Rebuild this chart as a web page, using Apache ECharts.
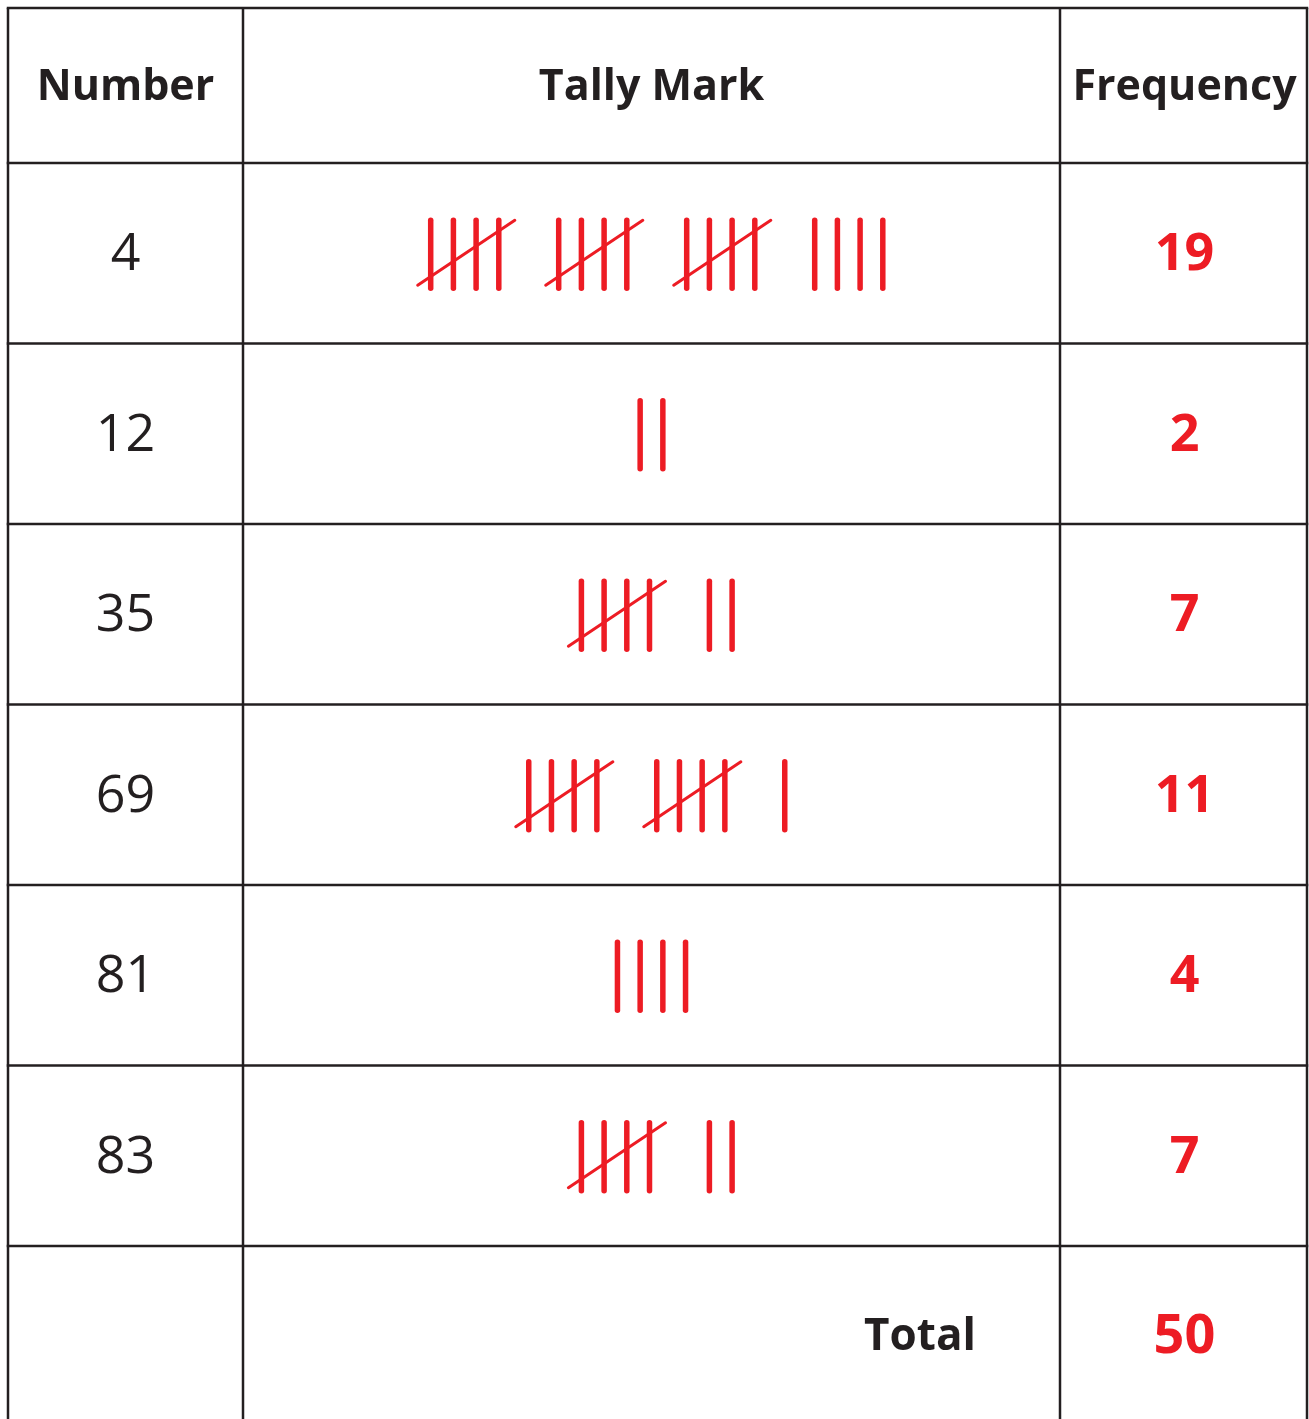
<!DOCTYPE html>
<html>
<head>
<meta charset="utf-8">
<script src="https://cdn.jsdelivr.net/npm/echarts@6/dist/echarts.min.js"></script>
<style>
  html, body { margin: 0; padding: 0; background: #ffffff; }
  #chart { width: 1309px; height: 1419px; }
</style>
</head>
<body>
<div id="chart"></div>
<script>
// ---- data ----
const headers = ['Number', 'Tally Mark', 'Frequency'];
const numbers = [4, 12, 35, 69, 81, 83];
const frequencies = [19, 2, 7, 11, 4, 7];
const totalLabel = 'Total';
const totalValue = 50;

// ---- layout / style (not data) ----
const LAYOUT = {
  width: 1309, height: 1419,
  colEdges: [8, 243, 1060, 1307],
  tableTop: 8,
  headerBottom: 163,
  rowHeight: 180.5,
  strokePitch: 22.7,
  groupPitch: 128,
  strokeHalf: 34,
  slashLeft: 13, slashRight: 16, slashBottom: 32, slashTop: 33,
  totalX: 920
};
const INK = '#231f20';
const RED = '#ed1c24';
const FONT = '"Open Sans", "Noto Sans", "DejaVu Sans", sans-serif';

const chart = echarts.init(document.getElementById('chart'), null, { renderer: 'canvas' });

// rows: -1 header, 0..n-1 data rows, n total row
const rowItems = [];
rowItems.push([-1, 0]);
numbers.forEach((n, i) => rowItems.push([i, frequencies[i]]));
rowItems.push([numbers.length, totalValue]);

function rowBounds(r) {
  if (r < 0) return [LAYOUT.tableTop, LAYOUT.headerBottom];
  const t = LAYOUT.headerBottom + r * LAYOUT.rowHeight;
  return [t, t + LAYOUT.rowHeight];
}

function renderRow(params, api) {
  const r = api.value(0);
  const freq = api.value(1);
  const [top, bottom] = rowBounds(r);
  const cy = (top + bottom) / 2;
  const E = LAYOUT.colEdges;
  const P = (x, y) => api.coord([x, y]);
  const children = [];
  const line = (x1, y1, x2, y2, w, color, cap) => {
    const a = P(x1, y1), b = P(x2, y2);
    children.push({
      type: 'line',
      shape: { x1: a[0], y1: a[1], x2: b[0], y2: b[1] },
      style: { stroke: color, lineWidth: w, lineCap: cap || 'butt' }
    });
  };
  const text = (str, x, y, size, weight, color, align) => {
    const p = P(x, y);
    children.push({
      type: 'text',
      style: {
        text: String(str), x: p[0], y: p[1], fill: color,
        fontSize: size, fontWeight: weight, fontFamily: FONT,
        align: align || 'center', verticalAlign: 'middle'
      }
    });
  };

  // cell borders
  line(E[0] - 1.25, top, E[3] + 1.25, top, 2.5, INK);
  E.forEach(x => line(x, top, x, bottom, 2.5, INK));

  if (r < 0) {
    text(headers[0], (E[0] + E[1]) / 2, cy + 2, 43, 'bold', INK);
    text(headers[1], (E[1] + E[2]) / 2, cy + 2, 43, 'bold', INK);
    text(headers[2], (E[2] + E[3]) / 2 + 1, cy + 2, 43, 'bold', INK);
  } else if (r < numbers.length) {
    text(numbers[r], (E[0] + E[1]) / 2, cy + 2, 52, 'normal', INK);
    text(freq, (E[2] + E[3]) / 2 + 1, cy + 2, 52, 'bold', RED);
    // tally marks
    const groups = Math.floor(freq / 5);
    const rem = freq % 5;
    const nGroups = groups + (rem > 0 ? 1 : 0);
    const lastCount = rem > 0 ? rem : 4;
    const leftPad = groups > 0 ? LAYOUT.slashLeft : 2.5;
    const rightPad = rem > 0 ? 2.5 : LAYOUT.slashRight;
    const span = leftPad + (nGroups - 1) * LAYOUT.groupPitch + (lastCount - 1) * LAYOUT.strokePitch + rightPad;
    const cx = (E[1] + E[2]) / 2;
    const x0 = cx - span / 2 + leftPad;
    for (let g = 0; g < nGroups; g++) {
      const gx = x0 + g * LAYOUT.groupPitch;
      const full = g < groups;
      const count = full ? 4 : rem;
      for (let s = 0; s < count; s++) {
        const sx = gx + s * LAYOUT.strokePitch;
        line(sx, cy + 1 - LAYOUT.strokeHalf, sx, cy + 1 + LAYOUT.strokeHalf, 5.5, RED, 'round');
      }
      if (full) {
        line(gx - LAYOUT.slashLeft, cy + LAYOUT.slashBottom,
             gx + 3 * LAYOUT.strokePitch + LAYOUT.slashRight, cy - LAYOUT.slashTop, 3, RED, 'round');
      }
    }
  } else {
    text(totalLabel, LAYOUT.totalX, cy + 1, 44, 'bold', INK);
    text(freq, (E[2] + E[3]) / 2 + 1, cy + 1, 54, 'bold', RED);
  }
  return { type: 'group', children };
}

chart.setOption({
  animation: false,
  backgroundColor: '#ffffff',
  grid: { left: 0, right: 0, top: 0, bottom: 0 },
  xAxis: { type: 'value', min: 0, max: LAYOUT.width, show: false },
  yAxis: { type: 'value', min: 0, max: LAYOUT.height, inverse: true, show: false },
  series: [{
    type: 'custom',
    clip: false,
    renderItem: renderRow,
    encode: { x: -1, y: -1 },
    data: rowItems
  }]
});
</script>
</body>
</html>
